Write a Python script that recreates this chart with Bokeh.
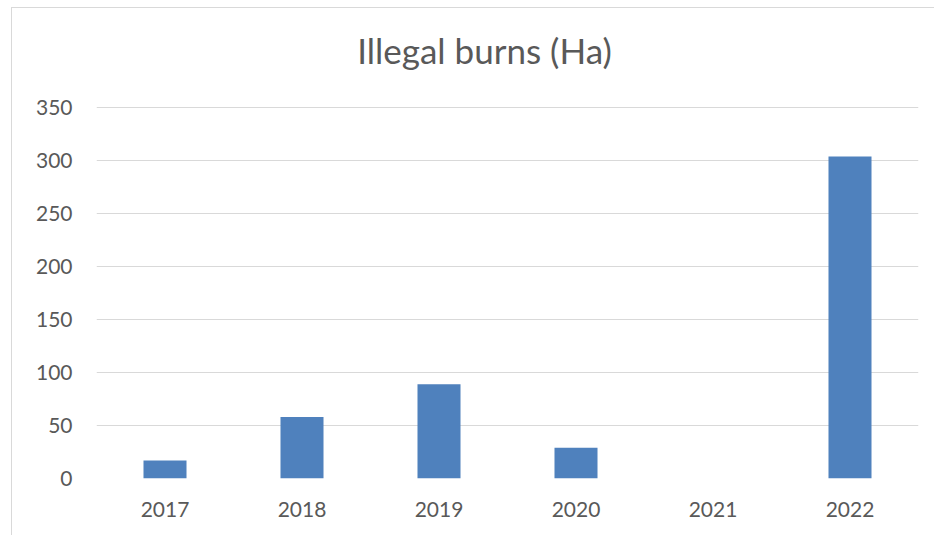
from bokeh.plotting import figure
from bokeh.models import ColumnDataSource, FixedTicker, Label
from bokeh.embed import file_html
from bokeh.resources import INLINE

years = ["2017", "2018", "2019", "2020", "2021", "2022"]
burns_ha = [17, 58, 89, 29, 0, 304]
y_ticks = [0, 50, 100, 150, 200, 250, 300, 350]
title_text = "Illegal burns (Ha)"

FONT = "Lato"
TEXT = "#595959"
GRID = "#d9d9d9"

# layout: the value axis reaches 350 at ~107px; the frame extends above to hold the title
FRAME_TOP_BORDER = 2
FRAME_BOTTOM_BORDER = 58
frame_h = 528 - FRAME_TOP_BORDER - FRAME_BOTTOM_BORDER - 2
y_end = 350 * frame_h / 371.0 * (373.0 / 371.0)

source = ColumnDataSource(data=dict(year=years, value=burns_ha))

p = figure(
    x_range=years, y_range=(0, y_end),
    width=923, height=528,
    output_backend="svg", toolbar_location=None,
    min_border_left=84, min_border_right=17,
    min_border_top=FRAME_TOP_BORDER, min_border_bottom=FRAME_BOTTOM_BORDER,
)
p.margin = (7, 0, 0, 11)
p.styles = {"border-left": f"1px solid {GRID}", "border-top": f"1px solid {GRID}"}

p.vbar(x="year", top="value", width=0.314, source=source,
       fill_color="#4F81BD", line_color=None)

# screen units are relative to the plot frame (x from left, y up from bottom)
title = Label(x=388, y=429, x_units="screen", y_units="screen",
              text=title_text, text_align="center", text_baseline="middle",
              text_font=FONT, text_font_size="35px", text_color=TEXT)
p.add_layout(title)

p.outline_line_color = None
p.background_fill_color = "white"
p.border_fill_color = "white"

p.xgrid.grid_line_color = None
p.ygrid.grid_line_color = GRID
p.ygrid.grid_line_width = 1
p.yaxis.ticker = FixedTicker(ticks=y_ticks)

for ax in (p.xaxis[0], p.yaxis[0]):
    ax.axis_line_color = None
    ax.major_tick_line_color = None
    ax.minor_tick_line_color = None
    ax.major_label_text_font = FONT
    ax.major_label_text_font_size = "21px"
    ax.major_label_text_color = TEXT

p.xaxis.major_label_standoff = 17
p.yaxis.major_label_standoff = 18

open("out.html", "w").write(file_html(p, INLINE))
